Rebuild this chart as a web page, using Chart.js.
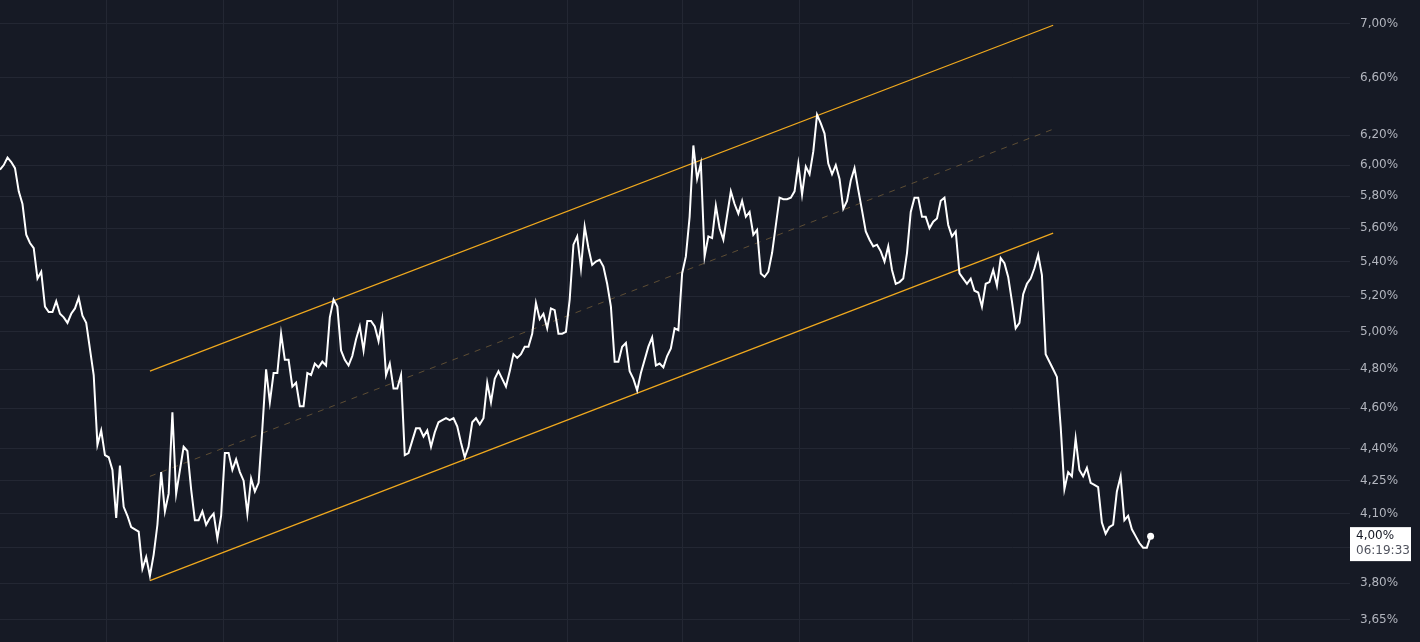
<!DOCTYPE html>
<html>
<head>
<meta charset="utf-8">
<script src="https://cdn.jsdelivr.net/npm/chart.js"></script>
<style>
    html, body { margin: 0; padding: 0; background: #161a25; }
    #wrap { width: 1420px; height: 642px; position: relative; }
</style>
</head>
<body>
<div id="wrap"><canvas id="yieldChart"></canvas></div>
<script>
// --- Data ---

// Daily closing yield (%), one entry per trading day. null = no point read for that day.
const yields = [
    5.97, 6.00, 6.05, 6.02, 5.98, 5.83, 5.75, 5.56, 5.51, 5.48,
    5.30, 5.34, 5.14, 5.11, 5.11, 5.17, 5.10, 5.08, 5.05, 5.10,
    5.13, 5.19, 5.09, 5.05, null, 4.77, 4.42, 4.49, 4.37, 4.36,
    4.30, 4.08, 4.32, 4.13, 4.09, 4.04, 4.03, 4.02, 3.86, 3.91,
    3.83, 3.92, 4.05, 4.29, 4.11, 4.19, 4.58, 4.19, null, 4.41,
    4.39, 4.21, 4.07, 4.07, 4.11, 4.05, 4.08, 4.10, 3.99, 4.09,
    4.38, 4.38, 4.30, 4.35, 4.29, 4.25, 4.10, 4.26, 4.20, 4.24,
    4.50, 4.80, 4.63, 4.78, 4.78, 4.99, 4.85, 4.85, 4.71, 4.73,
    4.61, 4.61, 4.78, 4.77, 4.83, 4.81, 4.84, 4.82, 5.08, 5.18,
    5.14, 4.90, 4.85, 4.82, 4.87, 4.96, 5.03, 4.90, 5.06, 5.06,
    5.03, 4.95, 5.07, 4.77, 4.83, 4.70, 4.70, 4.77, 4.37, 4.38,
    4.44, 4.50, 4.50, 4.46, 4.49, 4.41, 4.48, 4.53, 4.54, 4.55,
    4.54, 4.55, 4.51, 4.43, 4.36, 4.41, 4.53, 4.55, 4.52, 4.55,
    4.73, 4.63, 4.75, 4.79, 4.75, 4.71, 4.79, 4.88, 4.86, 4.88,
    4.92, 4.92, 4.99, 5.16, 5.07, 5.10, 5.02, 5.13, 5.12, 4.99,
    4.99, 5.00, 5.18, 5.50, 5.55, 5.36, 5.61, 5.48, 5.38, 5.40,
    5.41, 5.37, 5.27, 5.14, 4.84, 4.84, 4.92, 4.94, 4.79, 4.75,
    4.69, 4.78, null, 4.92, 4.97, 4.82, 4.83, 4.81, 4.87, 4.91,
    5.02, 5.01, 5.33, 5.43, 5.67, 6.13, 5.91, 6.01, 5.43, 5.55,
    5.54, 5.74, 5.60, 5.53, null, 5.83, 5.75, 5.69, 5.77, 5.67,
    5.70, 5.56, 5.59, 5.33, 5.31, 5.34, 5.45, null, 5.79, 5.78,
    5.78, 5.79, 5.83, 6.01, 5.81, 5.99, 5.94, 6.09, 6.34, 6.28,
    6.21, 6.01, 5.94, 6.00, 5.91, 5.72, 5.77, 5.90, 5.98, 5.84,
    5.71, 5.58, 5.53, 5.49, 5.50, 5.46, 5.40, 5.49, 5.35, 5.27,
    5.28, 5.30, 5.45, 5.70, 5.79, 5.79, 5.67, 5.67, 5.60, 5.64,
    5.66, 5.77, 5.79, 5.62, 5.55, 5.58, 5.33, 5.30, 5.27, 5.30,
    5.23, 5.22, 5.14, 5.27, 5.28, 5.35, 5.26, 5.42, 5.39, 5.31,
    5.17, 5.02, 5.05, 5.21, 5.27, 5.30, 5.36, 5.44, 5.32, 4.88,
    4.84, 4.80, 4.76, 4.51, 4.21, 4.29, 4.27, 4.45, 4.30, 4.27,
    4.31, 4.24, 4.23, 4.22, 4.06, 4.01, 4.04, 4.05, 4.20, 4.27,
    4.07, 4.09, 4.03, 4.00, 3.97, 3.95, 3.95, 4.00
];

// Trend channel drawn on the chart: [start, end] in days / yield %
const channelDays = [40, 281];
const channelUpper = [4.79, 6.99];
const channelMiddle = [4.27, 6.24];
const channelLower = [3.81, 5.57];

// Price scale labels (log scale) and monthly grid positions (days)
const yTicks = [3.65, 3.80, 3.95, 4.10, 4.25, 4.40, 4.60, 4.80, 5.00, 5.20, 5.40, 5.60, 5.80, 6.00, 6.20, 6.60, 7.00];
const monthTicks = [28.5, 59.5, 90, 121, 151.3, 182.2, 213.4, 243.6, 274.5, 305, 335.6];

const lastTime = '06:19:33';

// --- Helpers ---

function fmtPct(v) {
    return v.toFixed(2).replace('.', ',') + '%';
}

function toPoints(values) {
    const pts = [];
    values.forEach((v, i) => { if (v !== null) pts.push({ x: i, y: v }); });
    return pts;
}

function segment(ys) {
    return channelDays.map((d, i) => ({ x: d, y: ys[i] }));
}

const linePoints = toPoints(yields);
const lastPoint = linePoints[linePoints.length - 1];
const labelFont = '12px "DejaVu Sans"';

// Background fill for the whole canvas
const bgPlugin = {
    id: 'bg',
    beforeDraw(chart) {
        const c = chart.ctx;
        c.save();
        c.fillStyle = '#161a25';
        c.fillRect(0, 0, chart.width, chart.height);
        c.restore();
    }
};

// Price scale labels drawn by hand so the scale doesn't pad the plot area
const priceLabelsPlugin = {
    id: 'priceLabels',
    afterDraw(chart) {
        const c = chart.ctx;
        const scale = chart.scales.y;
        c.save();
        c.font = labelFont;
        c.fillStyle = '#b2b5be';
        c.textAlign = 'left';
        c.textBaseline = 'middle';
        yTicks.forEach(v => c.fillText(fmtPct(v), scale.left + 10, scale.getPixelForValue(v)));

        // last price tag
        const y = scale.getPixelForValue(lastPoint.y);
        const x = scale.left;
        c.fillStyle = '#ffffff';
        c.fillRect(x, y - 9, 61, 34);
        c.fillStyle = '#131722';
        c.fillText(fmtPct(lastPoint.y), x + 6, y);
        c.fillStyle = '#50535e';
        c.fillText(lastTime, x + 6, y + 15);
        c.restore();
    }
};

const gridColor = '#232733';
const channelColor = '#f0a91e';

new Chart(document.getElementById('yieldChart'), {
    type: 'line',
    data: {
        datasets: [
            {
                data: linePoints,
                borderColor: '#ffffff',
                borderWidth: 2,
                tension: 0,
                pointRadius: ctx => (ctx.dataIndex === linePoints.length - 1 ? 3.5 : 0),
                pointBackgroundColor: '#ffffff',
                pointBorderWidth: 0,
                spanGaps: true,
                order: 0
            },
            { data: segment(channelUpper), borderColor: channelColor, borderWidth: 1.2, pointRadius: 0, order: 1 },
            { data: segment(channelLower), borderColor: channelColor, borderWidth: 1.2, pointRadius: 0, order: 1 },
            { data: segment(channelMiddle), borderColor: 'rgba(180, 140, 70, 0.45)', borderWidth: 1, borderDash: [6, 6], pointRadius: 0, order: 1 }
        ]
    },
    options: {
        responsive: true,
        maintainAspectRatio: false,
        animation: false,
        layout: { padding: 0, autoPadding: false },
        plugins: { legend: { display: false }, tooltip: { enabled: false } },
        scales: {
            x: {
                type: 'linear',
                min: 0,
                max: 360.2,
                afterBuildTicks: scale => { scale.ticks = monthTicks.map(v => ({ value: v })); },
                afterFit: scale => { scale.height = 0; },
                ticks: { display: false },
                grid: { color: gridColor, drawTicks: false },
                border: { display: false }
            },
            y: {
                type: 'logarithmic',
                position: 'right',
                min: 3.563,
                max: 7.186,
                afterBuildTicks: scale => { scale.ticks = yTicks.map(v => ({ value: v })); },
                afterFit: scale => { scale.width = 70; },
                ticks: { display: false },
                grid: { color: gridColor, drawTicks: false },
                border: { display: false }
            }
        }
    },
    plugins: [bgPlugin, priceLabelsPlugin]
});
</script>
</body>
</html>
